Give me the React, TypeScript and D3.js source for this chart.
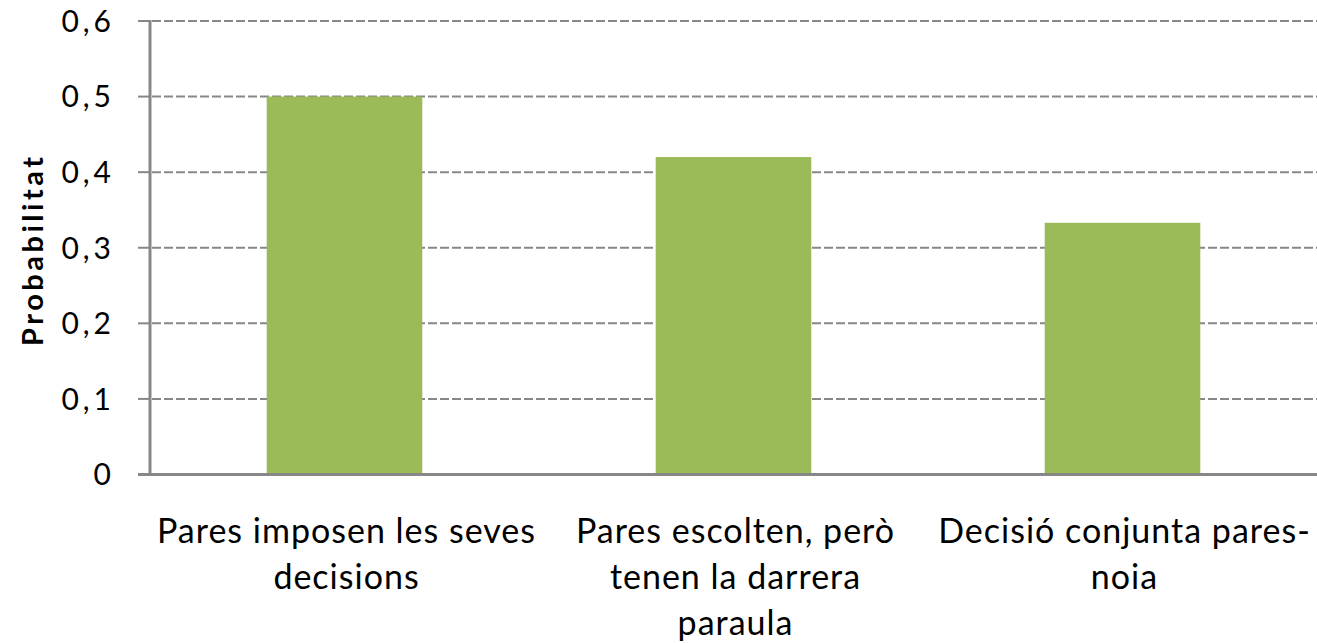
import React from "react";
import * as d3 from "d3";

const categories: string[][] = [
  ["Pares imposen les seves", "decisions"],
  ["Pares escolten, però", "tenen la darrera", "paraula"],
  ["Decisió conjunta pares-", "noia"],
];
const values: number[] = [0.5, 0.42, 0.333];
const yTicks: number[] = [0, 0.1, 0.2, 0.3, 0.4, 0.5, 0.6];
const yTitle = "Probabilitat";

const W = 1317;
const H = 643;
const FONT = "Lato, 'Open Sans', sans-serif";

export default function App() {
  const left = 150;
  const right = 1317;
  const top = 21;
  const bottom = 474.5;
  const keys = categories.map((_, i) => String(i));
  const x = d3.scaleBand<string>().domain(keys).range([left, right]).padding(0);
  const y = d3.scaleLinear().domain([0, 0.6]).range([bottom, top]);
  const barW = x.bandwidth() * 0.4;
  const fmt = (v: number) => (v === 0 ? "0" : d3.format(".1f")(v).replace(".", ","));
  const axisColor = "#878787";

  return (
    <svg
      width={W}
      height={H}
      style={{ position: "absolute", left: 0, top: 0, display: "block", background: "#fff" }}
    >
      {/* gridlines */}
      {yTicks.filter((t) => t > 0).map((t) => (
        <line
          key={"g" + t}
          x1={left + 2}
          x2={right}
          y1={y(t)}
          y2={y(t)}
          stroke={axisColor}
          strokeWidth={2}
          strokeDasharray="9,3"
        />
      ))}
      {/* bars */}
      {values.map((v, i) => {
        const cx = (x(String(i)) as number) + x.bandwidth() / 2;
        return (
          <rect
            key={"b" + i}
            x={cx - barW / 2}
            y={y(v)}
            width={barW}
            height={y(0) - y(v)}
            fill="#9BBB59"
          />
        );
      })}
      {/* y axis */}
      <line x1={left} x2={left} y1={top - 1} y2={bottom + 1.5} stroke={axisColor} strokeWidth={3} />
      {yTicks.map((t) => (
        <line key={"t" + t} x1={138} x2={left} y1={y(t)} y2={y(t)} stroke={axisColor} strokeWidth={2} />
      ))}
      {/* x axis */}
      <line x1={138} x2={right} y1={bottom} y2={bottom} stroke={axisColor} strokeWidth={3} />
      {/* tick labels */}
      {yTicks.map((t) => (
        <text
          key={"l" + t}
          x={115}
          y={y(t)}
          dy="0.36em"
          textAnchor="end"
          fontFamily={FONT}
          fontSize={30}
          letterSpacing={4}
          fill="#000"
        >
          {fmt(t)}
        </text>
      ))}
      {/* category labels */}
      {categories.map((lines, i) => {
        const cx = (x(String(i)) as number) + x.bandwidth() / 2;
        return (
          <text key={"c" + i} textAnchor="middle" fontFamily={FONT} fontSize={34} letterSpacing={1} fill="#000">
            {lines.map((ln, j) => (
              <tspan key={j} x={cx + 2} y={543 + j * 46}>
                {ln}
              </tspan>
            ))}
          </text>
        );
      })}
      {/* y title */}
      <text
        transform={`translate(43,${(top + bottom) / 2 + 2}) rotate(-90)`}
        textAnchor="middle"
        fontFamily={FONT}
        fontWeight="bold"
        fontSize={29}
        letterSpacing={3.5}
        fill="#000"
      >
        {yTitle}
      </text>
    </svg>
  );
}
